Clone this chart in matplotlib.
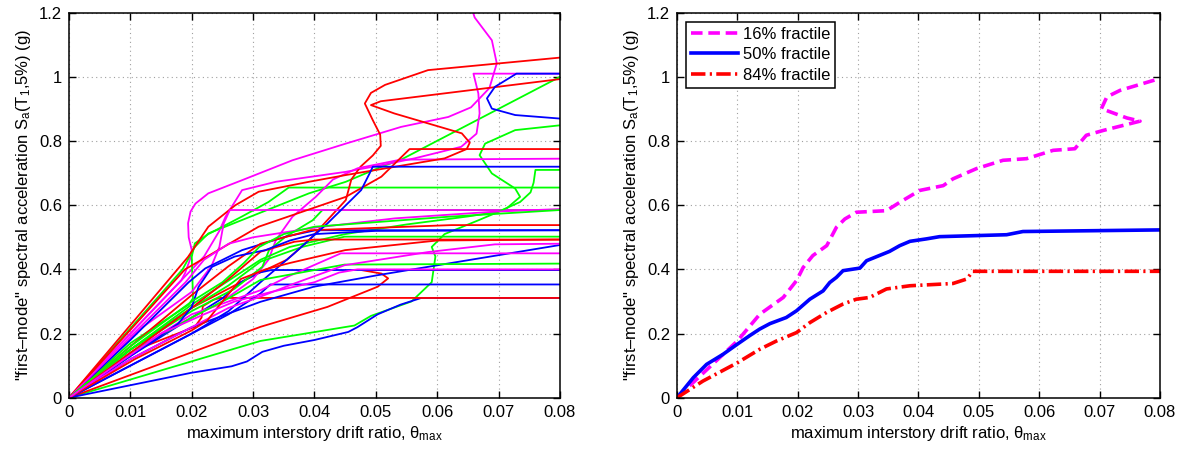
import matplotlib
matplotlib.use("Agg")
import matplotlib.pyplot as plt

plt.rcParams['font.family'] = ['Liberation Sans', 'DejaVu Sans']
plt.rcParams['mathtext.fontset'] = 'custom'
plt.rcParams['mathtext.rm'] = 'Liberation Sans'
plt.rcParams['mathtext.it'] = 'Liberation Sans:italic'

# ---------------- left panel: individual IDA curves (drift, Sa) ----------------
R1 = [(0, 0), (0.0312, 0.221), (0.0421, 0.283), (0.0503, 0.346), (0.052, 0.372), (0.0509, 0.387), (0.0476, 0.398), (0.08, 0.398)]
R2 = [(0, 0), (0.0107, 0.148), (0.0205, 0.221), (0.0216, 0.25), (0.0218, 0.285), (0.0235, 0.305), (0.0246, 0.311), (0.08, 0.311)]
R3 = [(0, 0), (0.01, 0.15), (0.02, 0.28), (0.03, 0.38), (0.0355, 0.43), (0.0391, 0.491), (0.0451, 0.616), (0.046, 0.68), (0.0475, 0.72), (0.0495, 0.755), (0.0508, 0.785), (0.0507, 0.82), (0.0495, 0.865), (0.0482, 0.917), (0.0492, 0.95), (0.0515, 0.975), (0.0585, 1.021), (0.08, 1.06)]
R4 = [(0, 0), (0.0194, 0.439), (0.0227, 0.533), (0.0271, 0.600), (0.0309, 0.642), (0.0391, 0.673), (0.0451, 0.694), (0.0612, 0.746), (0.0648, 0.775), (0.0653, 0.795), (0.064, 0.824), (0.053, 0.886), (0.0492, 0.912), (0.0508, 0.924), (0.08, 0.993)]
R5 = [(0, 0), (0.0189, 0.40), (0.0309, 0.533), (0.0451, 0.626), (0.0509, 0.689), (0.0555, 0.775), (0.08, 0.775)]
R6 = [(0, 0), (0.01, 0.16), (0.02, 0.32), (0.026, 0.41), (0.0312, 0.48), (0.0394, 0.522), (0.0623, 0.538), (0.08, 0.538)]
R7 = [(0, 0), (0.01, 0.14), (0.02, 0.28), (0.026, 0.37), (0.0312, 0.455), (0.0367, 0.486), (0.04, 0.493), (0.08, 0.493)]
R8 = [(0, 0), (0.0107, 0.12), (0.02, 0.21), (0.0225, 0.24), (0.025, 0.30), (0.028, 0.37), (0.032, 0.40), (0.036, 0.42), (0.045, 0.46), (0.06, 0.49), (0.08, 0.493)]

G1 = [(0, 0), (0.0312, 0.177), (0.0465, 0.225), (0.0492, 0.255), (0.0558, 0.30), (0.0591, 0.36), (0.0597, 0.44), (0.0591, 0.47), (0.0612, 0.51), (0.0667, 0.553), (0.0713, 0.59), (0.0735, 0.626), (0.0727, 0.652), (0.0689, 0.699), (0.0669, 0.756), (0.0678, 0.792), (0.0727, 0.834), (0.08, 0.849)]
G2 = [(0, 0), (0.0185, 0.40), (0.0205, 0.47), (0.0227, 0.512), (0.0391, 0.637), (0.0451, 0.673), (0.0509, 0.72), (0.054, 0.741), (0.08, 1.0)]
G3 = [(0, 0), (0.01, 0.17), (0.0195, 0.29), (0.0202, 0.31), (0.0200, 0.44), (0.0205, 0.481), (0.0227, 0.51), (0.0282, 0.565), (0.0325, 0.61), (0.0358, 0.655), (0.08, 0.655)]
G4 = [(0, 0), (0.01, 0.15), (0.02, 0.27), (0.027, 0.34), (0.0315, 0.408), (0.0326, 0.46), (0.0353, 0.502), (0.0397, 0.553), (0.0413, 0.585), (0.08, 0.585)]
G5 = [(0, 0), (0.01, 0.15), (0.02, 0.29), (0.0312, 0.43), (0.036, 0.47), (0.045, 0.51), (0.055, 0.54), (0.065, 0.565), (0.07, 0.58), (0.0735, 0.61), (0.0752, 0.64), (0.0757, 0.67), (0.076, 0.71), (0.08, 0.71)]
G6 = [(0, 0), (0.01, 0.15), (0.02, 0.28), (0.026, 0.35), (0.0312, 0.424), (0.038, 0.47), (0.0449, 0.502), (0.08, 0.502)]
G7 = [(0, 0), (0.01, 0.14), (0.02, 0.25), (0.026, 0.31), (0.0312, 0.367), (0.0449, 0.415), (0.08, 0.418)]
G8 = [(0, 0), (0.01, 0.16), (0.02, 0.30), (0.025, 0.36), (0.0285, 0.42), (0.031, 0.47), (0.035, 0.51), (0.04, 0.533), (0.0618, 0.564), (0.08, 0.585)]

B1 = [(0, 0), (0.02, 0.078), (0.0265, 0.098), (0.029, 0.113), (0.0315, 0.143), (0.035, 0.162), (0.04, 0.18), (0.0455, 0.205), (0.047, 0.22), (0.0503, 0.26), (0.054, 0.29), (0.0574, 0.311), (0.08, 0.311)]
B2 = [(0, 0), (0.01, 0.10), (0.02, 0.20), (0.026, 0.26), (0.0312, 0.325), (0.0328, 0.353), (0.08, 0.353)]
B3 = [(0, 0), (0.01, 0.13), (0.02, 0.25), (0.025, 0.31), (0.028, 0.36), (0.031, 0.39), (0.033, 0.398), (0.08, 0.398)]
B4 = [(0, 0), (0.01, 0.12), (0.02, 0.22), (0.0312, 0.299), (0.0399, 0.346), (0.0503, 0.382), (0.08, 0.476), (0.088, 0.55), (0.092, 0.70), (0.088, 0.85), (0.08, 0.87), (0.0727, 0.881), (0.0689, 0.901), (0.0681, 0.933), (0.0694, 0.969), (0.0729, 1.01), (0.085, 1.01)]
B5 = [(0, 0), (0.01, 0.18), (0.0195, 0.36), (0.0222, 0.403), (0.0282, 0.46), (0.0353, 0.502), (0.0402, 0.522), (0.08, 0.522)]
B6 = [(0, 0), (0.01, 0.10), (0.02, 0.20), (0.026, 0.27), (0.0312, 0.36), (0.0367, 0.45), (0.0421, 0.543), (0.0476, 0.647), (0.049, 0.70), (0.0495, 0.72), (0.08, 0.72)]
B7 = [(0, 0), (0.01, 0.13), (0.0178, 0.231), (0.02, 0.283), (0.0211, 0.345), (0.0233, 0.408), (0.027, 0.44), (0.032, 0.46), (0.036, 0.49), (0.04, 0.51), (0.05, 0.52), (0.08, 0.522)]

M1 = [(0, 0), (0.0183, 0.366), (0.0189, 0.388), (0.0197, 0.43), (0.02, 0.46), (0.0195, 0.50), (0.0194, 0.544), (0.0198, 0.58), (0.0206, 0.605), (0.0227, 0.637), (0.0282, 0.678), (0.0364, 0.74), (0.0451, 0.792), (0.0541, 0.844), (0.0618, 0.875), (0.0655, 0.905), (0.0685, 0.965), (0.0697, 1.042), (0.0689, 1.114), (0.0661, 1.185), (0.0655, 1.22)]
M2 = [(0, 0), (0.01, 0.20), (0.0185, 0.37), (0.022, 0.44), (0.0245, 0.52), (0.0255, 0.564), (0.0282, 0.647), (0.0337, 0.673), (0.0451, 0.704), (0.0509, 0.725), (0.0563, 0.746), (0.0639, 0.782), (0.0664, 0.823), (0.0669, 0.886), (0.0667, 0.948), (0.0659, 1.01), (0.08, 1.01)]
M3 = [(0, 0), (0.015, 0.20), (0.025, 0.30), (0.03, 0.37), (0.0325, 0.43), (0.0337, 0.491), (0.0364, 0.564), (0.0402, 0.626), (0.043, 0.68), (0.047, 0.715), (0.054, 0.742), (0.08, 0.745)]
M4 = [(0, 0), (0.012, 0.22), (0.02, 0.33), (0.0232, 0.41), (0.0245, 0.47), (0.0252, 0.543), (0.0262, 0.585), (0.08, 0.585)]
M5 = [(0, 0), (0.01, 0.19), (0.019, 0.36), (0.022, 0.43), (0.026, 0.48), (0.03, 0.50), (0.04, 0.53), (0.0531, 0.559), (0.0694, 0.58), (0.08, 0.588)]
M6 = [(0, 0), (0.01, 0.14), (0.02, 0.26), (0.026, 0.30), (0.0312, 0.335), (0.0356, 0.377), (0.0443, 0.45), (0.08, 0.45)]
M7 = [(0, 0), (0.01, 0.12), (0.02, 0.22), (0.026, 0.28), (0.0312, 0.315), (0.0367, 0.356), (0.0449, 0.413), (0.0585, 0.454), (0.0694, 0.478), (0.08, 0.48)]
M8 = [(0, 0), (0.015, 0.20), (0.022, 0.26), (0.027, 0.30), (0.033, 0.33), (0.04, 0.36), (0.044, 0.39), (0.047, 0.40), (0.08, 0.40)]

# ---------------- right panel: fractile curves ----------------
f16_drift = [0, 0.01, 0.0137, 0.0176, 0.0198, 0.0209, 0.0225, 0.0248, 0.0264, 0.0278, 0.0297, 0.0347, 0.0369, 0.0402, 0.0441, 0.0457, 0.0496, 0.054, 0.0579, 0.0623, 0.0659, 0.0678, 0.0706, 0.0767, 0.0745, 0.0703, 0.0712, 0.0734, 0.08]
f16_sa = [0, 0.177, 0.26, 0.3125, 0.365, 0.406, 0.443, 0.474, 0.531, 0.557, 0.578, 0.583, 0.609, 0.646, 0.661, 0.682, 0.714, 0.740, 0.745, 0.771, 0.776, 0.818, 0.833, 0.862, 0.872, 0.901, 0.9375, 0.958, 0.995]
f50_drift = [0, 0.0027, 0.0049, 0.0076, 0.01, 0.012, 0.0137, 0.0154, 0.0181, 0.0198, 0.022, 0.0242, 0.0253, 0.0264, 0.0275, 0.0303, 0.0314, 0.0352, 0.0369, 0.0386, 0.0413, 0.0435, 0.0546, 0.0573, 0.08]
f50_sa = [0, 0.0625, 0.104, 0.135, 0.167, 0.193, 0.214, 0.231, 0.25, 0.271, 0.307, 0.333, 0.359, 0.375, 0.396, 0.404, 0.427, 0.456, 0.474, 0.4875, 0.495, 0.502, 0.508, 0.518, 0.523]
f84_drift = [0, 0.0043, 0.01, 0.0137, 0.0165, 0.0198, 0.022, 0.0248, 0.0275, 0.0297, 0.0319, 0.0347, 0.0386, 0.0457, 0.048, 0.049, 0.08]
f84_sa = [0, 0.052, 0.109, 0.151, 0.177, 0.203, 0.234, 0.266, 0.292, 0.307, 0.3125, 0.339, 0.349, 0.356, 0.370, 0.394, 0.394]

RED, GREEN, BLUE, MAG = '#ff0000', '#00ff00', '#0000ff', '#ff00ff'
curves = [(R1, RED), (R2, RED), (R3, RED), (R4, RED), (R5, RED), (R6, RED), (R7, RED), (R8, RED),
          (G1, GREEN), (G2, GREEN), (G3, GREEN), (G4, GREEN), (G5, GREEN), (G6, GREEN), (G7, GREEN), (G8, GREEN),
          (M1, MAG), (M2, MAG), (M3, MAG), (M4, MAG), (M5, MAG), (M6, MAG), (M7, MAG), (M8, MAG),
          (B1, BLUE), (B2, BLUE), (B3, BLUE), (B4, BLUE), (B5, BLUE), (B6, BLUE), (B7, BLUE)]
order = [8, 0, 24, 16, 9, 1, 25, 17, 10, 2, 26, 18, 11, 3, 27, 19, 12, 4, 28, 20, 13, 5, 29, 21, 14, 6, 30, 22, 15, 7, 23]

fig = plt.figure(figsize=(11.94, 4.53), dpi=100)
ax1 = fig.add_axes([0.0578, 0.122, 0.4112, 0.850])
ax2 = fig.add_axes([0.5670, 0.122, 0.4045, 0.850])

for i in order:
    pts, col = curves[i]
    xs = [p[0] for p in pts]
    ys = [p[1] for p in pts]
    ax1.plot(xs, ys, color=col, lw=1.3, solid_joinstyle='round')

ax2.plot(f16_drift, f16_sa, color=MAG, lw=2.6, linestyle=(0, (3.2, 1.6)), label='16% fractile')
ax2.plot(f50_drift, f50_sa, color=BLUE, lw=2.6, linestyle='-', label='50% fractile')
ax2.plot(f84_drift, f84_sa, color=RED, lw=2.6, linestyle=(0, (4.0, 1.2, 0.6, 1.2)), label='84% fractile')

xticks = [0, 0.01, 0.02, 0.03, 0.04, 0.05, 0.06, 0.07, 0.08]
xticklabels = ['0', '0.01', '0.02', '0.03', '0.04', '0.05', '0.06', '0.07', '0.08']
yticks = [0, 0.2, 0.4, 0.6, 0.8, 1.0, 1.2]
yticklabels = ['0', '0.2', '0.4', '0.6', '0.8', '1', '1.2']

for ax in (ax1, ax2):
    ax.set_xlim(0, 0.08)
    ax.set_ylim(0, 1.2)
    ax.set_xticks(xticks)
    ax.set_xticklabels(xticklabels)
    ax.set_yticks(yticks)
    ax.set_yticklabels(yticklabels)
    ax.grid(True, color='#a0a0a0', linestyle=(0, (1, 3)), lw=0.8)
    ax.set_axisbelow(True)
    ax.tick_params(direction='in', top=True, right=True, length=5, width=1, labelsize=12, pad=5)
    for s in ax.spines.values():
        s.set_linewidth(1.1)
    ax.set_xlabel(r'maximum interstory drift ratio, θ$_{\mathregular{max}}$', fontsize=12, labelpad=3)
    ax.set_ylabel(r'"first–mode" spectral acceleration S$_{\mathregular{a}}$(T$_{\mathregular{1}}$,5%) (g)', fontsize=12, labelpad=4)

leg = ax2.legend(loc='upper left', fontsize=12, handlelength=2.8, borderaxespad=0.55,
                 borderpad=0.3, labelspacing=0.32, handletextpad=0.3, fancybox=False,
                 edgecolor='black', framealpha=1)
leg.get_frame().set_linewidth(1.1)

fig.savefig('out.png', dpi=100)
